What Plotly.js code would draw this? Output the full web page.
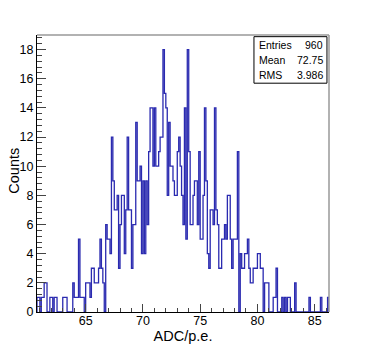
<!DOCTYPE html>
<html>
<head>
<meta charset="utf-8">
<script src="https://cdn.plot.ly/plotly-3.0.1.min.js"></script>
<style>
  body { margin: 0; background: #fff; }
  #plot { width: 366px; height: 346px; }
</style>
</head>
<body>
<div id="plot"></div>
<script>
// histogram binning (ADC/p.e.), 204 bins of 0.125
let binLow = 60.75;
let binWidth = 0.125;

// bin contents, left to right
let counts = [
    1, 1, 0, 1, 1, 2, 2, 0, 0, 1,
    1, 0, 1, 1, 0, 0, 0, 0, 1, 1,
    1, 0, 0, 0, 0, 2, 1, 1, 1, 5,
    1, 1, 1, 0, 2, 2, 2, 1, 3, 3,
    2, 2, 2, 3, 5, 3, 2, 0, 6, 5,
    5, 4, 12, 9, 7, 7, 8, 3, 6, 8,
    8, 4, 7, 12, 7, 7, 3, 6, 6, 13,
    9, 9, 10, 4, 9, 4, 9, 6, 11, 14,
    14, 10, 14, 10, 10, 11, 12, 12, 18, 15,
    14, 8, 13, 10, 10, 9, 8, 8, 11, 12,
    10, 8, 6, 14, 5, 18, 11, 6, 6, 8,
    9, 9, 6, 11, 5, 5, 8, 14, 9, 4,
    3, 7, 7, 6, 14, 7, 6, 3, 3, 5,
    5, 6, 5, 8, 8, 5, 3, 5, 5, 5,
    11, 0, 4, 3, 3, 4, 4, 5, 3, 2,
    2, 3, 3, 3, 4, 4, 3, 3, 0, 2,
    2, 2, 0, 0, 0, 1, 1, 3, 0, 0,
    0, 1, 0, 1, 0, 1, 1, 0, 0, 0,
    2, 0, 0, 0, 0, 0, 0, 0, 0, 0,
    1, 0, 0, 0, 0, 0, 0, 0, 1, 0,
    0, 0, 0, 1
];

// stats box text
let statLabels = ["Entries", "Mean", "RMS"];
let statValues = ["960", "72.75", "3.986"];

// step outline: start at 0, one point per bin edge, back down to 0
let xs = [binLow];
let ys = [0];
for (let i = 0; i < counts.length; i++) {
    xs.push(binLow + i * binWidth);
    ys.push(counts[i]);
}
let xEnd = binLow + counts.length * binWidth;
xs.push(xEnd);
ys.push(counts[counts.length - 1]);
xs.push(xEnd);
ys.push(0);

let histTrace = {
    x: xs,
    y: ys,
    type: "scatter",
    mode: "lines",
    line: { shape: "hv", color: "#2a2ab0", width: 1.3 },
    hoverinfo: "skip"
};

let font = "Liberation Sans, Arial, Helvetica, sans-serif";

// stats box annotations
let rowY = [0.964, 0.910, 0.856];
let annotations = [];
statLabels.forEach(function(label, k) {
    annotations.push({
        xref: "paper", yref: "paper", x: 0.752, y: rowY[k],
        xanchor: "left", yanchor: "middle", showarrow: false,
        text: label, font: { family: font, size: 10.5, color: "#000" }
    });
    annotations.push({
        xref: "paper", yref: "paper", x: 0.985, y: rowY[k],
        xanchor: "right", yanchor: "middle", showarrow: false,
        text: statValues[k], font: { family: font, size: 10.5, color: "#000" }
    });
});

// y axis title, placed like ROOT does (closer to the labels than plotly allows)
annotations.push({
    xref: "paper", yref: "paper", x: -0.079, y: 0.51,
    xanchor: "center", yanchor: "middle", showarrow: false, textangle: -90,
    text: "Counts", font: { family: font, size: 14.5, color: "#000" }
});

let layout = {
    width: 366,
    height: 346,
    margin: { l: 37, r: 37, t: 35, b: 34, pad: 0 },
    paper_bgcolor: "#fff",
    plot_bgcolor: "#fff",
    showlegend: false,
    xaxis: {
        range: [binLow, xEnd],
        dtick: 5,
        tick0: 0,
        ticks: "inside",
        ticklen: 8,
        tickcolor: "#444",
        minor: { dtick: 1, ticks: "inside", ticklen: 4, tickcolor: "#444" },
        showline: true,
        linecolor: "#000",
        linewidth: 1,
        showgrid: false,
        zeroline: false,
        ticklabelstandoff: -3,
        tickfont: { family: font, size: 12.5, color: "#000" },
        title: { text: "ADC/p.e.", font: { family: font, size: 14.5, color: "#000" }, standoff: 1 }
    },
    yaxis: {
        range: [0, 19],
        dtick: 2,
        tick0: 0,
        ticks: "inside",
        ticklen: 9,
        tickcolor: "#444",
        minor: { dtick: 0.4, ticks: "inside", ticklen: 4.5, tickcolor: "#444" },
        showline: true,
        linecolor: "#000",
        linewidth: 1,
        showgrid: false,
        zeroline: false,
        tickfont: { family: font, size: 12.5, color: "#000" }
    },
    shapes: [
        // frame top and right
        { type: "line", xref: "paper", yref: "paper", x0: 0, x1: 1, y0: 1, y1: 1,
          line: { color: "#999", width: 1.5 } },
        { type: "line", xref: "paper", yref: "paper", x0: 1, x1: 1, y0: 0, y1: 1,
          line: { color: "#999", width: 1.5 } },
        // stats box
        { type: "rect", xref: "paper", yref: "paper", x0: 0.743, x1: 0.993, y0: 0.826, y1: 0.994,
          line: { color: "#000", width: 1 }, fillcolor: "#fff" }
    ],
    annotations: annotations
};

Plotly.newPlot("plot", [histTrace], layout, { staticPlot: true });
</script>
</body>
</html>
